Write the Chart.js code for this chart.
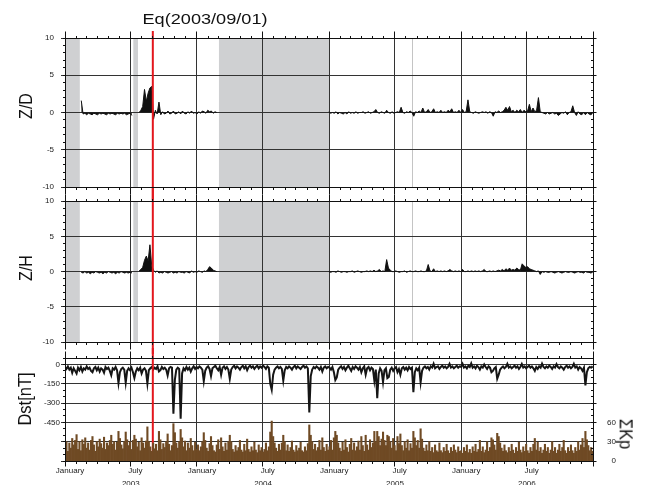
<!DOCTYPE html>
<html><head><meta charset="utf-8">
<script src="https://cdn.jsdelivr.net/npm/chart.js@4.4.1/dist/chart.umd.min.js"></script>
<style>
html,body{margin:0;padding:0;background:#fff;}
#wrap{position:relative;width:646px;height:485px;overflow:hidden;background:#fff;font-family:"Liberation Sans",Arial,sans-serif;}
canvas{position:absolute;left:0;}
.t{position:absolute;white-space:nowrap;line-height:1;color:#111;}
</style></head>
<body><div id="wrap">
<canvas id="c1" width="646" height="200" style="top:0px"></canvas>
<canvas id="c2" width="646" height="166" style="top:188px"></canvas>
<canvas id="c3" width="646" height="137" style="top:348px"></canvas>
<div class="t" style="left:205px;top:19px;font-size:15.5px;transform:translate(-50%,-50%) scaleX(1.17)">Eq(2003/09/01)</div>
<div class="t" style="left:26px;top:106px;font-size:16px;transform:translate(-50%,-50%) rotate(-90deg) scaleY(1.15)">Z/D</div>
<div class="t" style="left:26px;top:268px;font-size:16px;transform:translate(-50%,-50%) rotate(-90deg) scaleY(1.15)">Z/H</div>
<div class="t" style="left:24px;top:399px;font-size:16.5px;transform:translate(-50%,-50%) rotate(-90deg) scaleY(1.15)">Dst[nT]</div>
<div class="t" style="left:626px;top:434px;font-size:16.5px;transform:translate(-50%,-50%) rotate(90deg) scaleY(1.15)">ΣKp</div>
</div>
<script>
// ---------- time axis helpers ----------
const DAY0 = Date.UTC(2003, 0, 1);
const dayOfStr = s => { const [y, m, d] = s.split('-').map(Number); return (Date.UTC(y, m - 1, d) - DAY0) / 86400000; };
const X_MAX = dayOfStr('2007-01-01');

// ---------- tick labels ----------
const monthTickDates = ['2003-01-15','2003-07-15','2004-01-15','2004-07-15','2005-01-15','2005-07-15','2006-01-15','2006-07-15'];
const monthTickLabels = ['January','July','January','July','January','July','January','July'];
const yearTickDates = ['2003-07-02','2004-07-02','2005-07-02','2006-07-02'];
const yearTickLabels = ['2003','2004','2005','2006'];
const zTicks = [-10, -5, 0, 5, 10];
const dstTicks = [-750, -600, -450, -300, -150, 0];
const dstTickLabels = ['', '', '-450', '-300', '-150', '0'];
const kpTicks = [0, 30, 60];

// ---------- events / data gaps ----------
const eqDate = '2003-09-01';
const gapPeriods = [['2003-01-01','2003-02-11'], ['2003-07-09','2003-07-22'], ['2004-03-02','2005-01-01']];
const markerDate = '2005-08-20';

// ---------- series (Z: 5-day samples, Dst / ΣKp: 4-day samples from 2003-01-01) ----------
const Z_STEP = 5, DK_STEP = 4;
const none = n => Array(n).fill(null);
const zdValues = [].concat(none(9),
 [1.6,-0.2,-0.1,-0.3,-0.1,-0.2,-0.3,-0.1,-0.2,-0.3,-0.1,-0.2,-0.1,-0.2,-0.3,-0.1,-0.2,-0.1,-0.2,-0.3,-0.1,-0.2,-0.1,-0.2,-0.1,-0.3,-0.2,-0.1,-0.4],
 none(3),
 [0.0,0.3,0.8,3.1,1.5,2.6,3.3,3.5,-0.9,0.3,-0.2,1.4,-0.3,0.1,-0.2,-0.1,0.2,-0.2,-0.1,0.2,-0.2,-0.1,0.1,-0.2,0.2,-0.1,-0.2,0.1,-0.1,0.2,-0.1,0.0,-0.2,0.1,-0.1,0.2,0.1,-0.1,0.3,0.1,0.2,-0.1,0.1,0.0],
 none(61),
 [0.1,-0.1,0.0,-0.1,0.1,-0.2,0.0,-0.1,-0.2,0.0,
  -0.2,0.1,-0.1,0.0,-0.1,0.1,-0.1,0.0,0.0,0.1,
  -0.1,0.0,0.1,-0.1,0.0,0.1,0.4,0.0,-0.1,0.1,
  0.0,-0.1,0.3,0.0,-0.1,0.1,-0.1,0.0,0.1,0.0,
  0.7,0.0,-0.1,0.1,0.0,0.2,0.0,-0.5,0.1,0.0,
  0.2,0.0,0.6,0.0,0.1,0.4,0.0,0.1,0.5,0.0,
  0.1,0.0,0.3,0.0,0.1,0.0,0.3,0.1,0.5,0.0,
  0.1,0.0,0.3,0.0,0.4,0.0,0.1,1.7,0.1,0.0,
  -0.1,0.1,0.0,-0.1,0.0,0.1,0.0,0.1,-0.1,0.1,
  0.0,-0.5,0.1,0.0,0.2,0.0,0.1,0.3,0.7,0.3,
  0.8,0.1,0.3,0.0,0.3,0.1,0.4,0.0,0.3,0.1,
  0.2,1.1,0.1,0.6,0.1,0.3,2.0,0.1,0.0,-0.1,
  -0.2,0.0,-0.2,-0.1,0.0,-0.2,-0.1,-0.4,-0.2,0.0,
  -0.1,0.1,-0.3,0.0,0.1,0.9,0.0,-0.4,0.1,-0.2,
  -0.3,0.0,-0.3,0.0,-0.2,-0.3,-0.1]);
const zhValues = [].concat(none(9),
 [-0.1,-0.2,0.0,-0.2,-0.1,-0.3,-0.1,-0.2,0.0,-0.1,-0.2,-0.1,-0.3,-0.1,-0.2,0.0,-0.1,-0.2,-0.1,-0.3,-0.1,-0.2,0.0,-0.1,-0.2,-0.1,-0.2,-0.1,-0.2],
 none(3),
 [0.1,0.3,0.6,1.6,2.2,1.5,3.8,0.8,0.2,-0.1,0.1,-0.2,-0.1,-0.2,0.0,-0.1,-0.2,-0.1,0.0,-0.2,-0.1,-0.2,0.0,-0.1,-0.1,-0.2,0.0,-0.1,-0.2,0.1,-0.1,0.0,-0.1,0.1,0.0,-0.1,0.1,0.0,0.3,0.7,0.5,0.2,0.1,0.0],
 none(61),
 [0.0,-0.1,0.0,0.0,-0.1,0.1,0.0,-0.1,0.0,0.0,
  -0.1,0.0,0.0,0.1,-0.1,0.0,0.1,0.0,-0.1,0.0,
  0.0,0.1,0.0,0.1,0.0,0.2,0.0,0.1,0.3,0.0,
  0.1,0.0,1.7,0.5,0.2,0.0,0.0,0.1,0.0,-0.1,
  0.0,0.0,0.1,-0.1,0.0,0.1,0.0,0.0,0.1,0.0,
  0.0,0.1,0.0,0.0,0.1,1.0,0.1,0.0,0.4,0.0,
  0.1,0.0,0.1,0.0,0.1,0.0,0.1,0.3,0.1,0.0,
  0.1,0.0,0.1,0.0,0.3,0.0,0.0,0.1,0.0,0.1,
  0.0,0.1,0.0,0.1,0.0,0.1,0.3,0.0,0.0,0.1,
  0.0,0.1,0.0,0.1,0.2,0.1,0.3,0.1,0.4,0.2,
  0.5,0.2,0.3,0.2,0.5,0.3,0.2,1.1,0.8,0.6,
  0.7,0.4,0.3,0.2,0.1,0.0,0.1,-0.4,0.0,-0.1,
  0.0,-0.1,-0.1,0.0,-0.1,-0.2,-0.1,0.0,-0.1,-0.2,
  -0.1,0.0,-0.1,-0.1,0.0,-0.1,-0.2,-0.1,0.0,-0.1,
  -0.1,-0.2,0.0,-0.1,-0.1,-0.2,-0.1]);
const dstValues = [
 -20,-35,-15,-40,-25,-65,-30,-50,-70,-25, -45,-20,-55,-30,-40,-15,-35,-25,-50,-60,
 -30,-20,-45,-25,-55,-30,-40,-65,-20,-35, -25,-50,-84,-30,-40,-20,-45,-144,-60,-35,
 -25,-40,-141,-50,-30,-45,-25,-60,-105,-55, -30,-45,-25,-70,-40,-30,-50,-148,-45,-30,
 -20,-40,-25,-35,-15,-55,-45,-20,-35,-25, -40,-85,-30,-20,-25,-383,-120,-40,-25,-35,
 -422,-70,-30,-45,-20,-40,-25,-55,-30,-15, -35,-20,-30,-15,-25,-40,-130,-50,-25,-15,
 -35,-90,-30,-20,-10,-30,-45,-20,-80,-25, -15,-35,-20,-40,-112,-40,-20,-10,-30,-15,
 -25,-40,-20,-10,-30,-15,-45,-20,-10,-25, -15,-35,-20,-10,-30,-15,-25,-10,-20,-35,
 -15,-25,-150,-197,-80,-40,-25,-15,-30,-20, -35,-126,-45,-20,-30,-15,-25,-40,-20,-10,
 -30,-15,-25,-35,-20,-10,-25,-15,-30,-373, -90,-40,-20,-30,-15,-25,-40,-20,-55,-25,
 -15,-30,-20,-25,-40,-20,-60,-121,-100,-40, -25,-15,-35,-20,-45,-25,-10,-30,-50,-20,
 -35,-15,-25,-40,-20,-60,-30,-15,-80,-30, -20,-45,-25,-35,-127,-40,-263,-70,-30,-50,
 -138,-45,-30,-106,-97,-40,-25,-50,-30,-20, -60,-35,-80,-30,-20,-40,-25,-45,-20,-35,
 -25,-216,-60,-30,-45,-25,-139,-50,-25,-15, -30,-20,-40,-15,-25,5,-30,-20,-15,-35,
 -20,-10,-25,-15,-30,-20,5,-25,-15,-30, -20,-10,-25,-15,-20,5,-25,-15,-30,-10,
 -20,8,-25,-15,-30,-10,-20,-40,-15,-25, 0,-20,-35,-15,-25,-60,-50,-30,-20,-111,
 -80,-40,-25,-15,-30,-20,5,-25,-15,-30, -20,-10,-25,-15,-35,-20,3,-25,-15,-30,
 -20,-10,-25,-15,-30,-50,-20,-35,-15,-25, 6,-20,-30,-15,-25,-10,-20,-35,-15,-25,
 2,-20,-30,-15,-25,-40,-20,-10,-25,-15, -30,-20,5,-25,-15,-40,-20,-30,-50,-25,
 -162,-60,-30,-20,-25,-15];
const kpValues = [
 22,30,15,28,20,35,25,32,41,18, 30,16,33,26,36,20,28,17,32,38,
 25,15,30,22,34,27,20,37,18,28, 24,32,40,26,30,17,29,46,35,25,
 19,30,45,33,24,30,18,32,40,34, 22,29,16,36,28,20,31,53,30,22,
 15,28,19,26,16,46,33,18,27,21, 30,42,26,16,24,58,44,28,20,30,
 49,36,22,31,16,28,20,35,24,16, 29,18,25,16,22,30,44,32,20,15,
 27,38,24,16,14,25,33,18,36,22, 15,28,17,30,40,30,18,14,24,16,
 21,32,17,14,26,16,34,18,14,22, 16,29,17,13,25,16,21,14,18,28,
 16,22,45,62,38,28,20,15,26,17, 28,40,30,16,25,15,21,31,17,14,
 24,16,20,29,16,14,22,16,27,56, 40,30,18,26,16,21,32,17,36,21,
 15,26,17,22,32,17,36,46,40,28, 20,15,29,17,33,21,14,26,35,17,
 28,16,22,31,17,38,24,15,40,25, 17,33,21,28,46,30,46,38,24,34,
 45,32,24,40,38,30,20,35,24,16, 38,27,42,24,16,30,20,33,16,27,
 20,46,36,24,32,20,50,34,20,15, 25,16,30,15,21,13,25,16,14,28,
 16,13,21,15,26,16,12,21,15,25, 17,13,22,15,16,12,21,15,25,13,
 18,12,22,15,26,14,18,32,15,22, 13,17,30,15,21,36,33,25,17,43,
 38,28,20,15,25,16,13,21,15,26, 17,12,21,15,29,17,13,22,15,26,
 16,12,21,15,26,35,17,29,15,21, 12,17,26,15,21,12,17,30,15,21,
 12,17,26,15,21,32,16,12,21,15, 25,16,12,21,15,30,17,25,35,21,
 46,33,24,16,21,15];

// ---------- derived ----------
const monthStarts = [];
for (let y = 2003; y <= 2006; y++) for (let m = 1; m <= 12; m++) monthStarts.push(dayOfStr(y + '-' + String(m).padStart(2,'0') + '-01'));
const halfYearStarts = monthStarts.filter((d, i) => i % 6 === 0).concat([X_MAX]);
const EQ_DAY = dayOfStr(eqDate);
const gapDays = gapPeriods.map(([s, e]) => [dayOfStr(s), dayOfStr(e)]);
const markerDay = dayOfStr(markerDate);
const toXY = (arr, step) => arr.map((v, i) => ({x: i * step, y: v}));

const FONT = {family: '"Liberation Sans", Arial, sans-serif', size: 8};
const TICK_COLOR = '#222';
const GRID = '#333';
const al = p => Math.round(p - 0.5) + 0.5;

const decor = {
  id: 'decor',
  beforeDraw(chart, args, o) {
    const {ctx, chartArea: a} = chart; const xs = chart.scales.x;
    ctx.save();
    if (o.gaps) {
      ctx.fillStyle = '#cfd0d2';
      o.gaps.forEach(([s, e]) => { const p0 = xs.getPixelForValue(s), p1 = xs.getPixelForValue(e); ctx.fillRect(p0, a.top, p1 - p0, a.bottom - a.top); });
    }
    if (o.marker != null) {
      const p = al(xs.getPixelForValue(o.marker));
      ctx.strokeStyle = '#c4c4c4'; ctx.lineWidth = 1;
      ctx.beginPath(); ctx.moveTo(p, a.top); ctx.lineTo(p, a.bottom); ctx.stroke();
    }
    ctx.restore();
  },
  afterDatasetDraw(chart, args, o) {
    if (args.index !== o.redAfter) return;
    const {ctx, chartArea: a} = chart; const p = chart.scales.x.getPixelForValue(EQ_DAY);
    ctx.save(); ctx.strokeStyle = '#e3171d'; ctx.lineWidth = 2;
    ctx.beginPath(); ctx.moveTo(p, o.redTop); ctx.lineTo(p, o.redToArea ? a.bottom : chart.height); ctx.stroke();
    ctx.restore();
  },
  afterDraw(chart, args, o) {
    const {ctx, chartArea: a} = chart; const xs = chart.scales.x, ys = chart.scales.y;
    const L = al(a.left), R = al(a.right), T = al(a.top), B = al(a.bottom);
    ctx.save(); ctx.strokeStyle = '#111'; ctx.lineWidth = 1;
    ctx.strokeRect(L, T, R - L, B - T);
    ctx.beginPath();
    halfYearStarts.forEach(d => { const p = al(xs.getPixelForValue(d)); ctx.moveTo(p, T - o.topMajor); ctx.lineTo(p, T); ctx.moveTo(p, B); ctx.lineTo(p, B + o.bottomMajor); });
    monthStarts.forEach(d => { const p = al(xs.getPixelForValue(d)); ctx.moveTo(p, T - 2.5); ctx.lineTo(p, T); ctx.moveTo(p, B); ctx.lineTo(p, B + 2.5); });
    for (let v = ys.min; v <= ys.max + 1e-9; v += o.yStep) {
      const p = al(ys.getPixelForValue(v));
      ctx.moveTo(L - 2.5, p); ctx.lineTo(L, p); ctx.moveTo(R - 2.5, p); ctx.lineTo(R, p);
    }
    o.yMajor.forEach(v => { const p = al(ys.getPixelForValue(v)); ctx.moveTo(R, p); ctx.lineTo(R + 3, p); });
    ctx.stroke();
    ctx.restore();
  }
};

const xGrid = () => ({
  type: 'linear', min: 0, max: X_MAX, position: 'bottom', weight: 0, offset: false,
  afterBuildTicks: s => { s.ticks = halfYearStarts.map(v => ({value: v})); },
  ticks: {display: false},
  grid: {color: GRID, lineWidth: 1, drawTicks: false, offset: false},
  border: {display: false},
  afterFit: s => { s.height = 0; }
});

function zChart(id, values, padTop, padBottom, redTop) {
  return new Chart(document.getElementById(id), {
    type: 'line',
    data: {datasets: [{data: toXY(values, Z_STEP), borderColor: '#111', backgroundColor: '#111', borderWidth: 1, pointRadius: 0, fill: 'origin', tension: 0, spanGaps: false}]},
    options: {
      responsive: false, animation: false, devicePixelRatio: 1,
      layout: {padding: {top: padTop, bottom: padBottom, left: 0, right: 53}},
      plugins: {legend: {display: false}, tooltip: {enabled: false},
        decor: {gaps: gapDays, marker: markerDay, redAfter: 0, redTop: redTop, redToArea: false, topMajor: 7, bottomMajor: 7, yStep: 1, yMajor: zTicks}},
      scales: {
        x: xGrid(),
        y: {min: -10, max: 10,
          afterBuildTicks: s => { s.ticks = zTicks.map(v => ({value: v})); },
          ticks: {font: FONT, color: TICK_COLOR, padding: 7},
          grid: {color: GRID, lineWidth: 1, tickLength: 4},
          border: {display: false},
          afterFit: s => { s.width = 65; }}
      }
    },
    plugins: [decor]
  });
}
zChart('c1', zdValues, 38, 13, 31);
zChart('c2', zhValues, 13, 5, 0);

new Chart(document.getElementById('c3'), {
  type: 'bar',
  data: {datasets: [
    {type: 'bar', data: toXY(kpValues, DK_STEP), yAxisID: 'y2', xAxisID: 'x', backgroundColor: '#6f4a24', borderWidth: 0, barPercentage: 1, categoryPercentage: 1},
    {type: 'line', data: toXY(dstValues, DK_STEP), yAxisID: 'y', xAxisID: 'x', borderColor: '#151515', borderWidth: 2, pointRadius: 0, tension: 0, fill: false}
  ]},
  options: {
    responsive: false, animation: false, devicePixelRatio: 1,
    layout: {padding: {top: 10, bottom: 0, left: 0, right: 30}},
    plugins: {legend: {display: false}, tooltip: {enabled: false},
      decor: {redAfter: 1, redTop: 0, redToArea: true, topMajor: 7, bottomMajor: 5, yStep: 50, yMajor: dstTicks}},
    scales: {
      x: xGrid(),
      xm: {type: 'linear', min: 0, max: X_MAX, position: 'bottom', weight: 1, offset: false,
        afterBuildTicks: s => { s.ticks = monthTickDates.map(d => ({value: dayOfStr(d)})); },
        ticks: {font: FONT, color: TICK_COLOR, padding: 5, autoSkip: false, maxRotation: 0, callback: (v, i) => monthTickLabels[i]},
        grid: {display: false, drawTicks: false, offset: false}, border: {display: false},
        afterFit: s => { s.height = 15; }},
      xy: {type: 'linear', min: 0, max: X_MAX, position: 'bottom', weight: 2, offset: false,
        afterBuildTicks: s => { s.ticks = yearTickDates.map(d => ({value: dayOfStr(d)})); },
        ticks: {font: FONT, color: TICK_COLOR, padding: 3, autoSkip: false, maxRotation: 0, callback: (v, i) => yearTickLabels[i]},
        grid: {display: false, drawTicks: false, offset: false}, border: {display: false},
        afterFit: s => { s.height = 9; }},
      y: {position: 'left', min: -750, max: 50,
        afterBuildTicks: s => { s.ticks = dstTicks.map(v => ({value: v})); },
        ticks: {font: FONT, color: TICK_COLOR, padding: 1, callback: (v, i) => dstTickLabels[i]},
        grid: {color: GRID, lineWidth: 1, tickLength: 4},
        border: {display: false},
        afterFit: s => { s.width = 65; }},
      y2: {position: 'right', min: 0, max: 160,
        afterBuildTicks: s => { s.ticks = kpTicks.map(v => ({value: v})); },
        ticks: {font: FONT, color: TICK_COLOR, padding: 0, crossAlign: 'far'},
        grid: {display: false, drawTicks: false},
        border: {display: false},
        afterFit: s => { s.width = 23; }}
    }
  },
  plugins: [decor]
});
</script>
</body></html>
